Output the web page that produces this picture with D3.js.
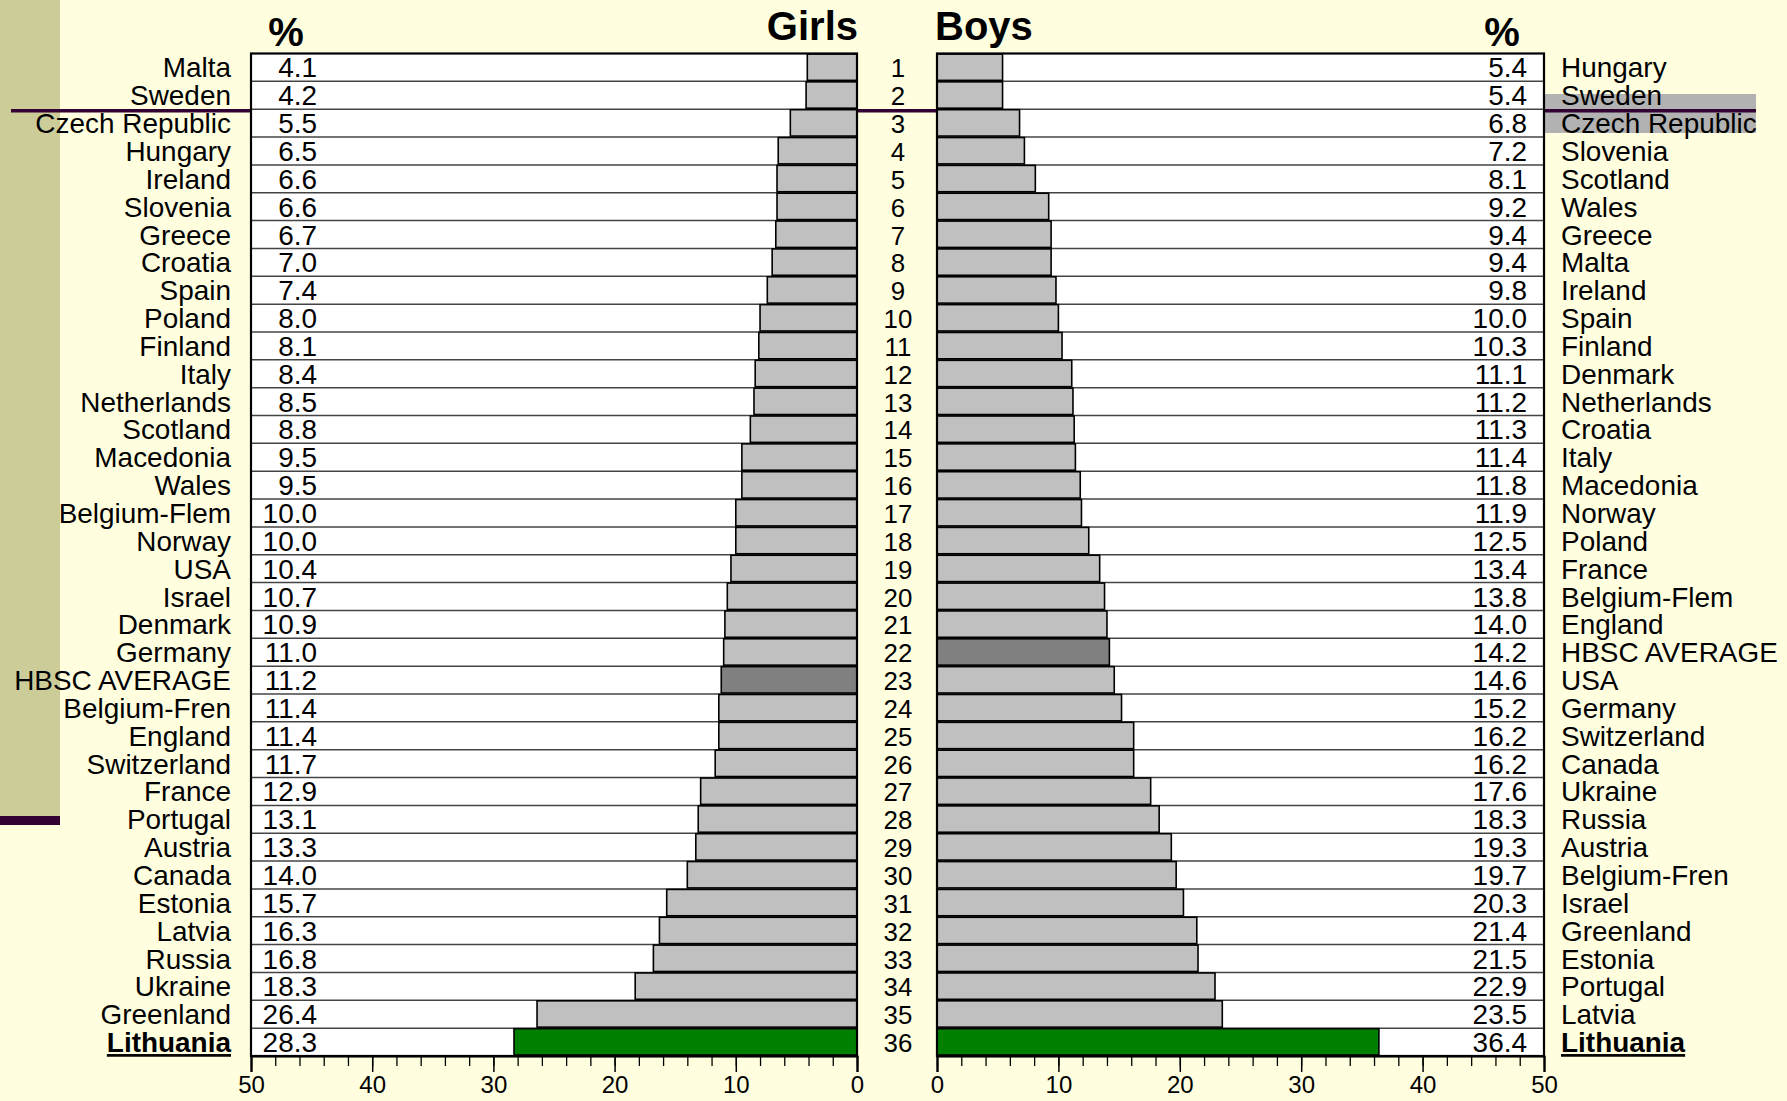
<!DOCTYPE html>
<html><head><meta charset="utf-8">
<script src="https://cdn.jsdelivr.net/npm/d3@7"></script>
<style>html,body{margin:0;padding:0;background:#FFFFE0;overflow:hidden}
text{font-family:"Liberation Sans",Arial,sans-serif;fill:#000}</style>
</head><body><svg id="c" width="1787" height="1101"></svg>
<script>
const girlsCountries = ["Malta","Sweden","Czech Republic","Hungary","Ireland","Slovenia","Greece","Croatia","Spain","Poland","Finland","Italy","Netherlands","Scotland","Macedonia","Wales","Belgium-Flem","Norway","USA","Israel","Denmark","Germany","HBSC AVERAGE","Belgium-Fren","England","Switzerland","France","Portugal","Austria","Canada","Estonia","Latvia","Russia","Ukraine","Greenland","Lithuania"];
const girlsValues = [4.1,4.2,5.5,6.5,6.6,6.6,6.7,7.0,7.4,8.0,8.1,8.4,8.5,8.8,9.5,9.5,10.0,10.0,10.4,10.7,10.9,11.0,11.2,11.4,11.4,11.7,12.9,13.1,13.3,14.0,15.7,16.3,16.8,18.3,26.4,28.3];
const boysCountries = ["Hungary","Sweden","Czech Republic","Slovenia","Scotland","Wales","Greece","Malta","Ireland","Spain","Finland","Denmark","Netherlands","Croatia","Italy","Macedonia","Norway","Poland","France","Belgium-Flem","England","HBSC AVERAGE","USA","Germany","Switzerland","Canada","Ukraine","Russia","Austria","Belgium-Fren","Israel","Greenland","Estonia","Portugal","Latvia","Lithuania"];
const boysValues = [5.4,5.4,6.8,7.2,8.1,9.2,9.4,9.4,9.8,10.0,10.3,11.1,11.2,11.3,11.4,11.8,11.9,12.5,13.4,13.8,14.0,14.2,14.6,15.2,16.2,16.2,17.6,18.3,19.3,19.7,20.3,21.4,21.5,22.9,23.5,36.4];
const majorTicks = [0,10,20,30,40,50];
const minorTicks = d3.range(0,51,2);
const titles = {girls:"Girls", boys:"Boys", unit:"%"};
const barColor = d => d === "HBSC AVERAGE" ? "#808080" : d === "Lithuania" ? "#008000" : "#C0C0C0";

const W=1787,H=1101;
const svg = d3.select("#c");
svg.append("rect").attr("width",W).attr("height",H).attr("fill","#FFFFE0");
svg.append("rect").attr("x",0).attr("y",0).attr("width",60).attr("height",816).attr("fill","#CCCC99");
svg.append("rect").attr("x",0).attr("y",816).attr("width",60).attr("height",9).attr("fill","#330033");
svg.append("rect").attr("x",1545).attr("y",94).attr("width",211).attr("height",39).attr("fill","#B2B2B2");

const topY=53.5, botY=1056;
const y = d3.scaleBand().domain(d3.range(36)).range([topY,botY]);
const bw = y.bandwidth();
const xg = d3.scaleLinear().domain([0,50]).range([857,251]);
const xb = d3.scaleLinear().domain([0,50]).range([937,1544]);

svg.append("line").attr("x1",11).attr("x2",1756).attr("y1",y(2)+1.5).attr("y2",y(2)+1.5)
  .attr("stroke","#330033").attr("stroke-width",3.5);

function panel(countries, values, x){
  const g = svg.append("g");
  const x0 = Math.min(x(0),x(50)), x1 = Math.max(x(0),x(50));
  g.append("rect").attr("x",x0).attr("y",topY).attr("width",x1-x0).attr("height",botY-topY).attr("fill","#fff");
  g.selectAll("line.sep").data(d3.range(1,36)).join("line").attr("class","sep")
    .attr("x1",x0).attr("x2",x1).attr("y1",i=>y(i)).attr("y2",i=>y(i))
    .attr("stroke","#444").attr("stroke-width",1.5);
  g.selectAll("rect.bar").data(values).join("rect").attr("class","bar")
    .attr("x",(v)=>Math.min(x(0),x(v))).attr("width",v=>Math.abs(x(v)-x(0)))
    .attr("y",(v,i)=>y(i)+0.5).attr("height",bw-1.5)
    .attr("fill",(v,i)=>barColor(countries[i])).attr("stroke","#000").attr("stroke-width",1.6);
  g.append("rect").attr("x",x0).attr("y",topY).attr("width",x1-x0).attr("height",botY-topY)
    .attr("fill","none").attr("stroke","#000").attr("stroke-width",2.2);
  const minor = g.append("g").attr("transform",`translate(0,${botY})`)
    .call(d3.axisBottom(x).tickValues(minorTicks).tickSize(10).tickFormat(""));
  minor.select(".domain").remove();
  minor.selectAll("line").attr("stroke","#000").attr("stroke-width",1.3);
  const major = g.append("g").attr("transform",`translate(0,${botY})`)
    .call(d3.axisBottom(x).tickValues(majorTicks).tickSize(16).tickPadding(4).tickFormat(d3.format("d")));
  major.select(".domain").attr("stroke","#000").attr("stroke-width",2.2);
  major.selectAll("line").attr("stroke","#000").attr("stroke-width",1.5);
  major.selectAll("text").style("font-size","24px").style("font-family",'"Liberation Sans",Arial,sans-serif').attr("fill","#000");
}
panel(girlsCountries, girlsValues, xg);
panel(boysCountries, boysValues, xb);

const cy = i => y(i)+bw/2+10;
function labels(arr, xpos, anchor, fmt, size){
  svg.append("g").selectAll("text").data(arr).join("text")
    .attr("transform",(d,i)=>`translate(${xpos},${cy(i)}) scale(1.035,1)`)
    .attr("x",0).attr("y",0).attr("text-anchor",anchor)
    .style("font-size",(size||27)+"px")
    .style("font-weight",d=>d==="Lithuania"?"bold":"normal")
    .style("text-decoration",d=>d==="Lithuania"?"underline":"none")
    .text(fmt);
}
labels(girlsCountries, 231, "end", d=>d);
labels(girlsValues, 317, "end", d=>d3.format(".1f")(d));
labels(boysValues, 1527, "end", d=>d3.format(".1f")(d));
labels(boysCountries, 1561, "start", d=>d);
labels(girlsValues.map((d,i)=>i+1), 898, "middle", d=>d, 25);

svg.append("text").attr("x",858).attr("y",40).attr("text-anchor","end")
  .style("font-size","40px").style("font-weight","bold").text(titles.girls);
svg.append("text").attr("x",935).attr("y",40).attr("text-anchor","start")
  .style("font-size","40px").style("font-weight","bold").text(titles.boys);
svg.append("text").attr("x",286).attr("y",46).attr("text-anchor","middle")
  .style("font-size","40px").style("font-weight","bold").text(titles.unit);
svg.append("text").attr("x",1502).attr("y",46).attr("text-anchor","middle")
  .style("font-size","40px").style("font-weight","bold").text(titles.unit);
</script></body></html>
